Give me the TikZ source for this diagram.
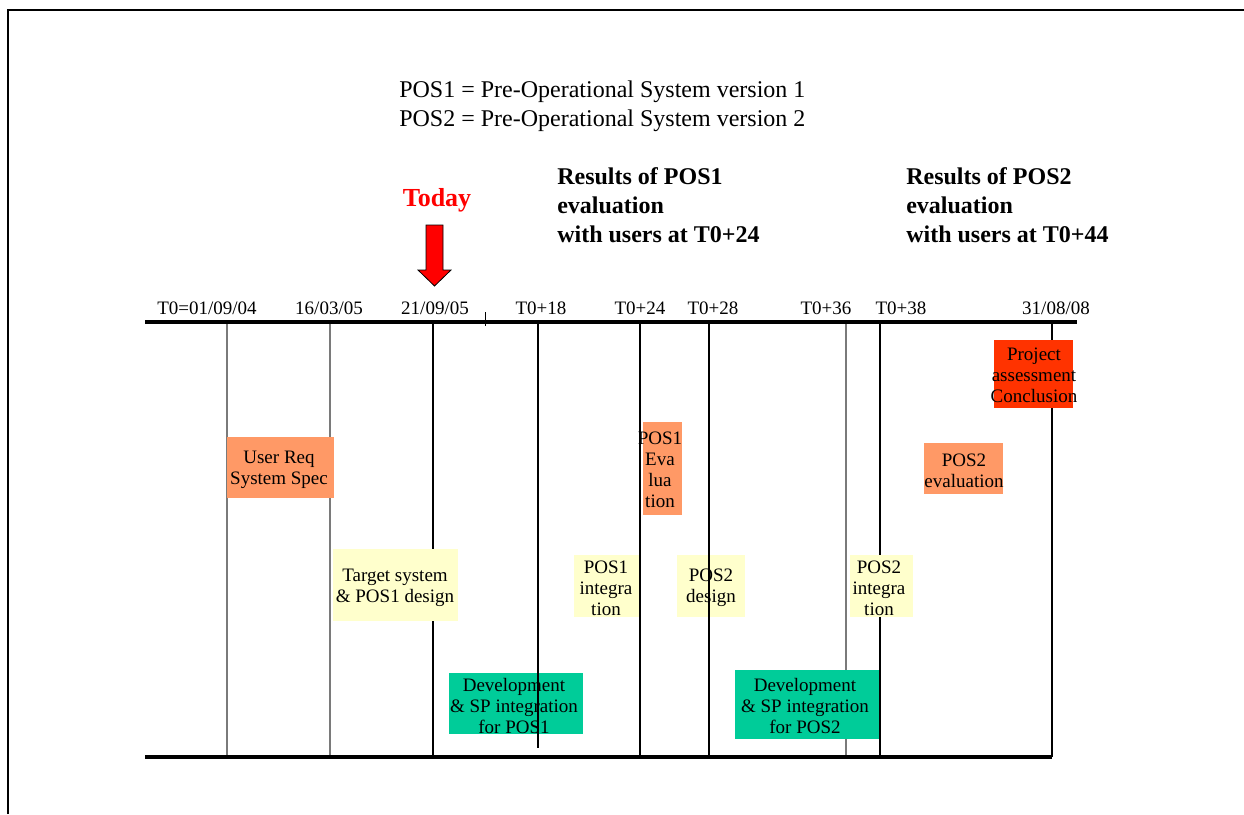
\documentclass[tikz,border=0pt]{standalone}
\usepackage{fontspec}
\setmainfont{Liberation Serif}
\definecolor{salmon}{HTML}{FF9966}
\definecolor{paleyellow}{HTML}{FFFFCC}
\definecolor{teal}{HTML}{00CC99}
\definecolor{vermilion}{HTML}{FF3300}
\definecolor{todayred}{HTML}{FF0000}
\definecolor{gridgray}{HTML}{7A7A7A}
% filled task rectangle with its centred caption
% #1 name, #2-#5 corners, #6 fill colour, #7-#8 caption centre, #9 caption
\newcommand\taskbox[9]{%
  \fill[#6] (#2,#3) rectangle (#4,#5);
  \node[boxtxt] (#1) at (#7,#8) {#9};}
\begin{document}
\begin{tikzpicture}[x=0.75pt,y=-0.75pt,
  boxtxt/.style={font=\fontsize{14.25}{15.75}\selectfont, align=center, inner sep=0},
  datelbl/.style={font=\fontsize{14.25}{15.75}\selectfont, inner sep=0, anchor=base},
  legend/.style={font=\fontsize{18}{21.75}\selectfont, inner sep=0, anchor=base west},
  result/.style={font=\bfseries\fontsize{18}{21.75}\selectfont, align=left, inner sep=0, anchor=north west},
  axisline/.style={line width=3pt},
  fgline/.style={line width=0.8pt, black},
  bgline/.style={line width=0.8pt, gridgray}]
\useasboundingbox (0,0) rectangle (1244,814);
\fill[white] (0,0) rectangle (1244,814);

% page frame
\draw[line width=0.8pt] (8,814) -- (8,10) -- (1244,10);

% legend
\node[legend] (pos1def) at (399,97) {POS1 = Pre-Operational System version 1};
\node[legend] (pos2def) at (399,126) {POS2 = Pre-Operational System version 2};

% milestone results
\node[result] (res1) at (557,167) {Results of POS1\\evaluation\\with users at T0+24};
\node[result] (res2) at (906,167) {Results of POS2\\evaluation\\with users at T0+44};

% today marker
\node[font=\bfseries\fontsize{19.5}{22}\selectfont, text=todayred, inner sep=0, anchor=base] (today) at (437,206) {Today};
\draw[fill=todayred, draw=black, line width=0.6pt]
  (426,225) -- (443,225) -- (443,270) -- (451,270) -- (434.5,286) -- (418,270) -- (426,270) -- cycle;

% date labels
\node[datelbl] (d0)  at (207,314) {T0=01/09/04};
\node[datelbl] (d1)  at (329,314) {16/03/05};
\node[datelbl] (d2)  at (435,314) {21/09/05};
\node[datelbl] (d18) at (541,314) {T0+18};
\node[datelbl] (d24) at (640,314) {T0+24};
\node[datelbl] (d28) at (713,314) {T0+28};
\node[datelbl] (d36) at (826,314) {T0+36};
\node[datelbl] (d38) at (901,314) {T0+38};
\node[datelbl] (dend) at (1056,314) {31/08/08};

% milestone lines lying behind the tasks
\draw[bgline] (227,322) -- (227,757);
\draw[bgline] (330,322) -- (330,757);
\draw[fgline] (433,322) -- (433,757);
\draw[bgline] (846,322) -- (846,757);
\draw[fgline] (880,322) -- (880,757);
\draw[fgline] (1052,322) -- (1052,757);

% tasks
\taskbox{ureq}{227}{437}{334}{498}{salmon}{279}{470}{User Req\\System Spec}
\taskbox{target}{333}{549}{458}{621}{paleyellow}{395}{588}{Target system\\\& POS1 design}
\taskbox{pos1int}{574}{555}{640}{617}{paleyellow}{606}{588}{POS1\\integra\\tion}
\taskbox{pos1eva}{643}{422}{682}{515}{salmon}{660}{470}{POS1\\Eva\\lua\\tion}
\taskbox{pos2des}{677}{555}{745}{617}{paleyellow}{711}{588}{POS2\\design}
\taskbox{pos2int}{850}{555}{913}{617}{paleyellow}{879}{588}{POS2\\integra\\tion}
\taskbox{pos2eva}{924}{443}{1003}{494}{salmon}{964}{471}{POS2\\evaluation}
\taskbox{proj}{994}{340}{1073}{408}{vermilion}{1034}{375}{Project\\assessment\\Conclusion}
\taskbox{dev1}{449}{673}{583}{734}{teal}{514}{706}{Development\\\& SP integration\\for POS1}
\taskbox{dev2}{735}{670}{879}{739}{teal}{805}{706}{Development\\\& SP integration\\for POS2}

% milestone lines drawn over the tasks
\draw[fgline] (538,322) -- (538,748);
\draw[fgline] (640,322) -- (640,757);
\draw[fgline] (709,322) -- (709,757);

% small tick on the time axis
\draw[line width=0.6pt] (485,312) -- (485,326);

% time axes
\draw[axisline] (145,322) -- (1077,322);
\draw[axisline] (145,757) -- (1052,757);
\end{tikzpicture}
\end{document}
